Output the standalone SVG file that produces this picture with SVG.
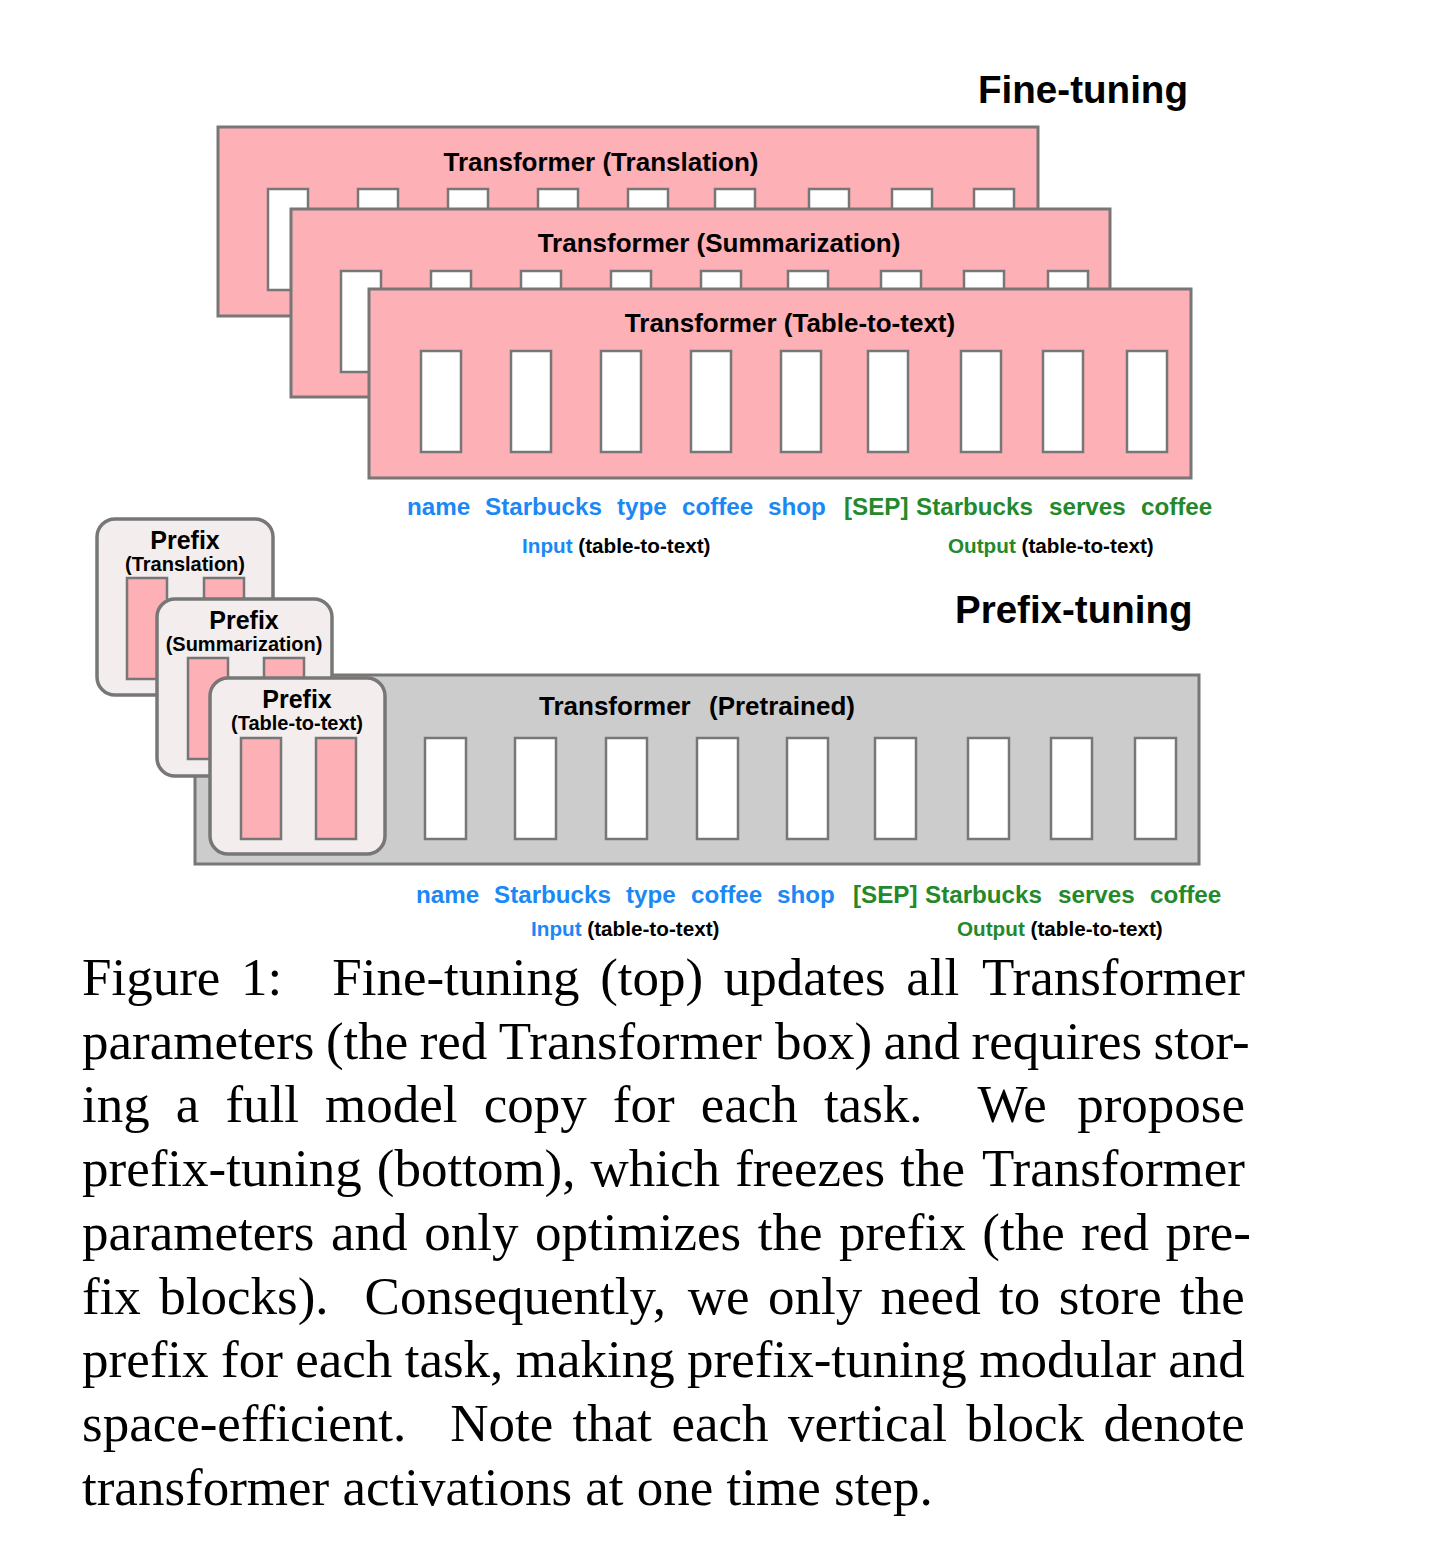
<svg xmlns="http://www.w3.org/2000/svg" width="1430" height="1560" viewBox="0 0 1430 1560">
<style>
.bg{fill:#ffffff}
.tbox{fill:#fdb0b5;stroke:#777;stroke-width:3}
.gbox{fill:#cccccc;stroke:#777;stroke-width:3}
.pbox{fill:#f3eded;stroke:#777;stroke-width:3.5}
.blk{fill:#ffffff;stroke:#777;stroke-width:2.5}
.pblk{fill:#fdb0b5;stroke:#777;stroke-width:2.5}
.title{font-family:"Liberation Sans",Arial,sans-serif;font-weight:bold;font-size:26px;fill:#000}
.head{font-family:"Liberation Sans",Arial,sans-serif;font-weight:bold;font-size:38.6px;fill:#000}
.pre{font-family:"Liberation Sans",Arial,sans-serif;font-weight:bold;font-size:25px;fill:#000;text-anchor:middle}
.presub{font-family:"Liberation Sans",Arial,sans-serif;font-weight:bold;font-size:20px;fill:#000;text-anchor:middle}
.tok{font-family:"Liberation Sans",Arial,sans-serif;font-weight:bold;font-size:24.2px}
.lab{font-family:"Liberation Sans",Arial,sans-serif;font-weight:bold;font-size:20.7px;fill:#000}
.blue{fill:#1a88f5}
.green{fill:#23892a}
.cap{font-family:"Liberation Serif","Times New Roman",serif;font-size:53px;fill:#000}
</style>
<rect class="bg" x="0" y="0" width="1430" height="1560"/>

<text class="head" x="978" y="103">Fine-tuning</text>

<g id="transformer-translation">
<rect class="tbox" x="218" y="127" width="820" height="189"/>
<text class="title" x="601" y="171" text-anchor="middle">Transformer (Translation)</text>
<rect class="blk" x="268" y="189" width="40" height="101"/>
<rect class="blk" x="358" y="189" width="40" height="101"/>
<rect class="blk" x="448" y="189" width="40" height="101"/>
<rect class="blk" x="538" y="189" width="40" height="101"/>
<rect class="blk" x="628" y="189" width="40" height="101"/>
<rect class="blk" x="715" y="189" width="40" height="101"/>
<rect class="blk" x="809" y="189" width="40" height="101"/>
<rect class="blk" x="892" y="189" width="40" height="101"/>
<rect class="blk" x="974" y="189" width="40" height="101"/>
</g>

<g id="transformer-summarization">
<rect class="tbox" x="291" y="209" width="819" height="188"/>
<text class="title" x="719" y="252" text-anchor="middle">Transformer (Summarization)</text>
<rect class="blk" x="341" y="271" width="40" height="101"/>
<rect class="blk" x="431" y="271" width="40" height="101"/>
<rect class="blk" x="521" y="271" width="40" height="101"/>
<rect class="blk" x="611" y="271" width="40" height="101"/>
<rect class="blk" x="701" y="271" width="40" height="101"/>
<rect class="blk" x="788" y="271" width="40" height="101"/>
<rect class="blk" x="881" y="271" width="40" height="101"/>
<rect class="blk" x="964" y="271" width="40" height="101"/>
<rect class="blk" x="1048" y="271" width="40" height="101"/>
</g>

<g id="transformer-table-to-text">
<rect class="tbox" x="369" y="289" width="822" height="189"/>
<text class="title" x="790" y="332" text-anchor="middle">Transformer (Table-to-text)</text>
<rect class="blk" x="421" y="351" width="40" height="101"/>
<rect class="blk" x="511" y="351" width="40" height="101"/>
<rect class="blk" x="601" y="351" width="40" height="101"/>
<rect class="blk" x="691" y="351" width="40" height="101"/>
<rect class="blk" x="781" y="351" width="40" height="101"/>
<rect class="blk" x="868" y="351" width="40" height="101"/>
<rect class="blk" x="961" y="351" width="40" height="101"/>
<rect class="blk" x="1043" y="351" width="40" height="101"/>
<rect class="blk" x="1127" y="351" width="40" height="101"/>
</g>

<g id="tokens-top" class="tok">
<text class="blue" x="407" y="515">name</text>
<text class="blue" x="485" y="515">Starbucks</text>
<text class="blue" x="617" y="515">type</text>
<text class="blue" x="682" y="515">coffee</text>
<text class="blue" x="768" y="515">shop</text>
<text class="green" x="844" y="515">[SEP]</text>
<text class="green" x="916" y="515">Starbucks</text>
<text class="green" x="1049" y="515">serves</text>
<text class="green" x="1141" y="515">coffee</text>
</g>
<g id="labels-top" class="lab">
<text x="522" y="553"><tspan class="blue">Input</tspan> (table-to-text)</text>
<text x="948" y="553"><tspan class="green">Output</tspan> (table-to-text)</text>
</g>

<text class="head" x="955" y="623" style="font-size:38.5px">Prefix-tuning</text>

<g id="transformer-pretrained">
<rect class="gbox" x="195" y="675" width="1004" height="189"/>
<text class="title" x="539" y="715">Transformer</text>
<text class="title" x="709" y="715">(Pretrained)</text>
<rect class="blk" x="425" y="738" width="41" height="101"/>
<rect class="blk" x="515" y="738" width="41" height="101"/>
<rect class="blk" x="606" y="738" width="41" height="101"/>
<rect class="blk" x="697" y="738" width="41" height="101"/>
<rect class="blk" x="787" y="738" width="41" height="101"/>
<rect class="blk" x="875" y="738" width="41" height="101"/>
<rect class="blk" x="968" y="738" width="41" height="101"/>
<rect class="blk" x="1051" y="738" width="41" height="101"/>
<rect class="blk" x="1135" y="738" width="41" height="101"/>
</g>

<g id="prefix-translation">
<rect class="pbox" x="97" y="519" width="176" height="176" rx="18"/>
<text class="pre" x="185" y="549">Prefix</text>
<text class="presub" x="185" y="571">(Translation)</text>
<rect class="pblk" x="127" y="578" width="40" height="101"/>
<rect class="pblk" x="204" y="578" width="40" height="101"/>
</g>

<g id="prefix-summarization">
<rect class="pbox" x="157" y="599" width="175" height="177" rx="18"/>
<text class="pre" x="244" y="629">Prefix</text>
<text class="presub" x="244" y="651">(Summarization)</text>
<rect class="pblk" x="188" y="658" width="40" height="101"/>
<rect class="pblk" x="264" y="658" width="40" height="101"/>
</g>

<g id="prefix-table-to-text">
<rect class="pbox" x="210" y="678" width="175" height="176" rx="18"/>
<text class="pre" x="297" y="708">Prefix</text>
<text class="presub" x="297" y="730">(Table-to-text)</text>
<rect class="pblk" x="241" y="738" width="40" height="101"/>
<rect class="pblk" x="316" y="738" width="40" height="101"/>
</g>

<g id="tokens-bottom" class="tok">
<text class="blue" x="416" y="903">name</text>
<text class="blue" x="494" y="903">Starbucks</text>
<text class="blue" x="626" y="903">type</text>
<text class="blue" x="691" y="903">coffee</text>
<text class="blue" x="777" y="903">shop</text>
<text class="green" x="853" y="903">[SEP]</text>
<text class="green" x="925" y="903">Starbucks</text>
<text class="green" x="1058" y="903">serves</text>
<text class="green" x="1150" y="903">coffee</text>
</g>
<g id="labels-bottom" class="lab">
<text x="531" y="936"><tspan class="blue">Input</tspan> (table-to-text)</text>
<text x="957" y="936"><tspan class="green">Output</tspan> (table-to-text)</text>
</g>

<g id="caption" class="cap">
<text y="995"><tspan x="82">Figure</tspan><tspan x="241">1:</tspan><tspan x="332.2">Fine-tuning</tspan><tspan x="600.2">(top)</tspan><tspan x="723.8">updates</tspan><tspan x="906.3">all</tspan><tspan x="982">Transformer</tspan></text>
<text y="1059"><tspan x="82">parameters</tspan><tspan x="325.9">(the</tspan><tspan x="419.7">red</tspan><tspan x="498.8">Transformer</tspan><tspan x="775.1">box)</tspan><tspan x="883.6">and</tspan><tspan x="971.5">requires</tspan><tspan x="1153.6">stor-</tspan></text>
<text y="1122"><tspan x="82">ing</tspan><tspan x="175.8">a</tspan><tspan x="225.4">full</tspan><tspan x="325.1">model</tspan><tspan x="483.7">copy</tspan><tspan x="612.8">for</tspan><tspan x="700.7">each</tspan><tspan x="823.9">task.</tspan><tspan x="977.5">We</tspan><tspan x="1077.2">propose</tspan></text>
<text y="1186"><tspan x="82">prefix-tuning</tspan><tspan x="376.8">(bottom),</tspan><tspan x="590.6">which</tspan><tspan x="735.2">freezes</tspan><tspan x="900.3">the</tspan><tspan x="982">Transformer</tspan></text>
<text y="1250"><tspan x="82">parameters</tspan><tspan x="331.1">and</tspan><tspan x="424.2">only</tspan><tspan x="535">optimizes</tspan><tspan x="757.7">the</tspan><tspan x="839.1">prefix</tspan><tspan x="982.3">(the</tspan><tspan x="1081.3">red</tspan><tspan x="1165.6">pre-</tspan></text>
<text y="1314"><tspan x="82">fix</tspan><tspan x="159.3">blocks).</tspan><tspan x="364.6">Consequently,</tspan><tspan x="687.8">we</tspan><tspan x="768">only</tspan><tspan x="880.6">need</tspan><tspan x="999.1">to</tspan><tspan x="1058.7">store</tspan><tspan x="1180.1">the</tspan></text>
<text y="1377"><tspan x="82">prefix</tspan><tspan x="221">for</tspan><tspan x="295.2">each</tspan><tspan x="404.7">task,</tspan><tspan x="515.7">making</tspan><tspan x="687.1">prefix-tuning</tspan><tspan x="979.2">modular</tspan><tspan x="1168.2">and</tspan></text>
<text y="1441"><tspan x="82">space-efficient.</tspan><tspan x="450.2">Note</tspan><tspan x="572.6">that</tspan><tspan x="671.5">each</tspan><tspan x="788">vertical</tspan><tspan x="966.3">block</tspan><tspan x="1103.5">denote</tspan></text>
<text x="82" y="1505">transformer activations at one time step.</text>
</g>
</svg>
